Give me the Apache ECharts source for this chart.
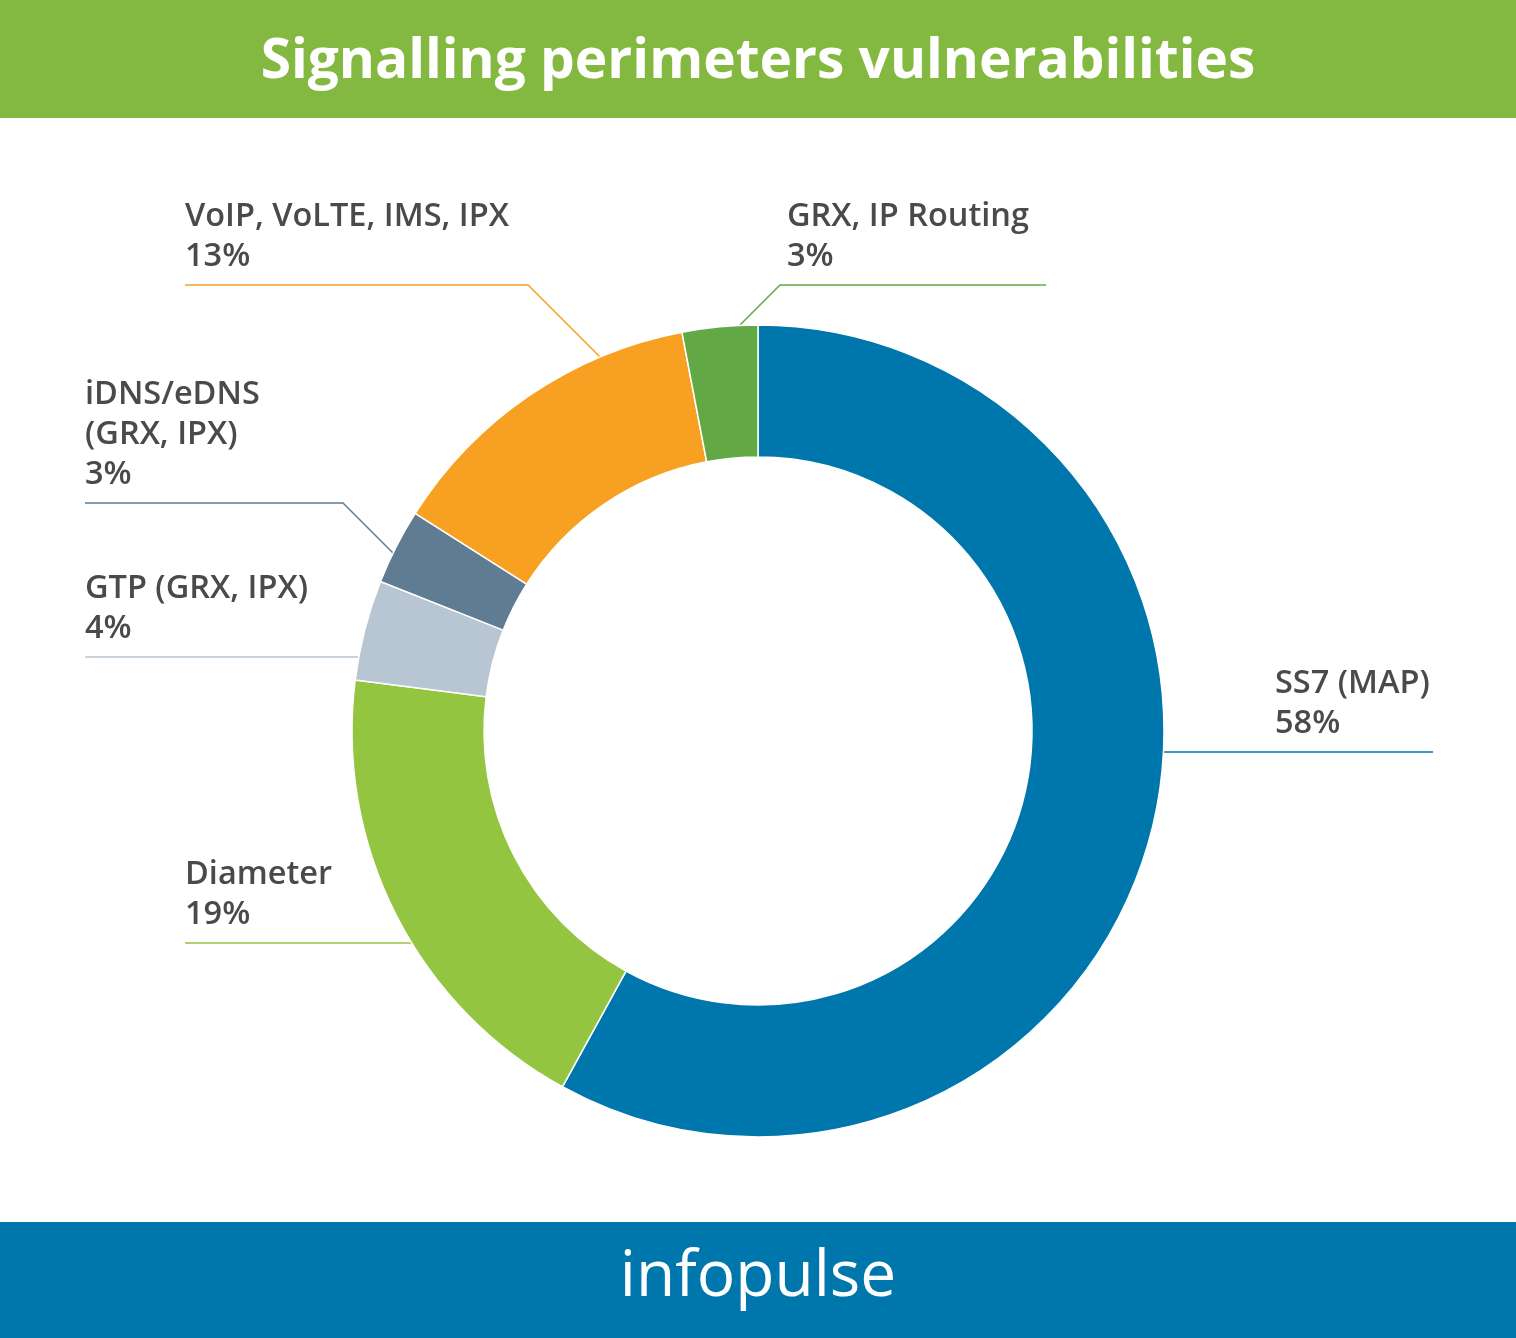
<!DOCTYPE html>
<html><head><meta charset="utf-8">
<script src="https://cdn.jsdelivr.net/npm/echarts@6/dist/echarts.min.js"></script>
<style>html,body{margin:0;padding:0;background:#fff}#main{width:1516px;height:1338px}</style>
</head><body><div id="main"></div>
<script>
const categories = ['SS7 (MAP)', 'Diameter', 'GTP (GRX, IPX)', 'iDNS/eDNS\n(GRX, IPX)', 'VoIP, VoLTE, IMS, IPX', 'GRX, IP Routing'];
const values = [58, 19, 4, 3, 13, 3];
const colors = ['#0077ac', '#93c540', '#b8c6d3', '#5f7c93', '#f7a021', '#62a844'];

// label placement: text anchor x, leader line y, elbow, end x
const labelPos = [
    { x: 1275, lineY: 752, from: [1163, 752], to: 1433 },
    { x: 185, lineY: 943, from: [443, 943], to: 185 },
    { x: 85, lineY: 657, from: [358, 657], to: 85 },
    { x: 85, lineY: 503, from: [393, 553], elbow: [343, 503], to: 85 },
    { x: 185, lineY: 285, from: [600, 357], elbow: [528, 285], to: 185 },
    { x: 787, lineY: 285, from: [740, 325], elbow: [780, 285], to: 1046 }
];

const chart = echarts.init(document.getElementById('main'));
chart.setOption({
    animation: false,
    graphic: [
        { type: 'rect', shape: { x: 0, y: 0, width: 1516, height: 118 }, style: { fill: '#84b941' } },
        { type: 'text', x: 758, y: 62, style: { text: 'Signalling perimeters vulnerabilities', fill: '#fff', font: 'bold 55px "Open Sans"', textAlign: 'center', textVerticalAlign: 'middle' } },
        { type: 'rect', shape: { x: 0, y: 1222, width: 1516, height: 116 }, style: { fill: '#0077ac' } },
        { type: 'text', x: 758, y: 1278, style: { text: 'infopulse', fill: '#fff', font: '500 64px "Open Sans"', textAlign: 'center', textVerticalAlign: 'middle' } }
    ],
    series: [{
        type: 'pie',
        center: [758, 731],
        radius: [274, 406],
        startAngle: 90,
        clockwise: true,
        data: categories.map((c, i) => ({ name: c, value: values[i], itemStyle: { color: colors[i] }, labelLine: { lineStyle: { color: colors[i] } } })),
        itemStyle: { borderColor: '#fff', borderWidth: 1.5 },
        label: {
            formatter: p => p.name + '\n' + p.value + '%',
            color: '#4a4a4a',
            fontFamily: 'Open Sans',
            fontWeight: 600,
            fontSize: 32.5,
            lineHeight: 40
        },
        labelLine: { show: true, lineStyle: { width: 1.5 } },
        labelLayout: function (params) {
            const p = labelPos[params.dataIndex];
            const pts = [p.from];
            if (p.elbow) pts.push(p.elbow);
            pts.push([p.to, p.lineY]);
            return {
                x: p.x, y: p.lineY - 8, align: 'left', verticalAlign: 'bottom',
                labelLinePoints: pts
            };
        }
    }]
});
</script></body></html>
